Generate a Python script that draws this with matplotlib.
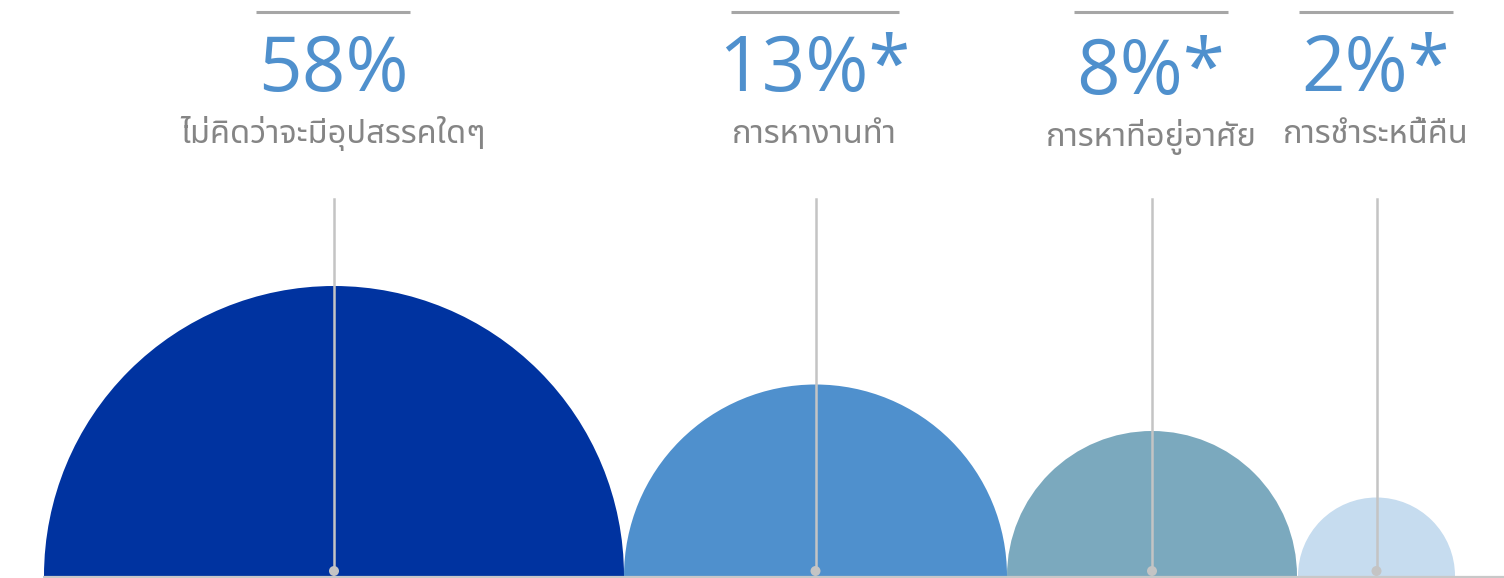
import matplotlib
matplotlib.use("Agg")
import matplotlib.pyplot as plt
from matplotlib.patches import Wedge, Circle
from matplotlib import font_manager
from matplotlib.ft2font import FT2Font

# === Data ===
values = [58, 13, 8, 2]
markers = ["", "*", "*", "*"]
labels = ["ไม่คิดว่าจะมีอุปสรรคใดๆ", "การหางานทำ", "การหาที่อยู่อาศัย", "การชำระหนี้คืน"]

# === Layout / style ===
radii = [290, 191.5, 145, 78.5]
gaps = [0, 0, 0, 1]
colors = ["#0033a0", "#4f90cd", "#7ba9be", "#c6dcef"]
line_half = [77, 84, 77, 77]
y_shift = [0, 0, -3, 0]
x_start = 44
base_y = 2
W, H = 1504, 578


def find_thai_font():
    preferred = ["Noto Sans Thai", "Noto Sans Thai UI", "Leelawadee UI", "Loma", "Garuda",
                 "Tlwg Typo", "Kinnari", "Norasi", "Sawasdee", "Umpush", "Waree"]
    found = {}
    for f in font_manager.fontManager.ttflist:
        try:
            if 0x0E01 in FT2Font(f.fname).get_charmap():
                found[f.name] = f.fname
        except Exception:
            pass
    for p in preferred:
        if p in found:
            return p
    if found:
        return sorted(found)[0]
    return "DejaVu Sans"


thai_font = find_thai_font()

fig = plt.figure(figsize=(W / 100, H / 100), dpi=100)
ax = fig.add_axes([0, 0, 1, 1])
ax.set_xlim(0, W)
ax.set_ylim(0, H)
ax.axis("off")

# baseline
ax.plot([x_start - 1, W], [base_y - 1, base_y - 1], color="#c8c8c8", lw=1.6,
        solid_capstyle="butt", zorder=3)

x = x_start
for i, (v, r) in enumerate(zip(values, radii)):
    x += gaps[i]
    cx = x + r
    x = cx + r
    ax.add_patch(Wedge((cx, base_y), r, 0, 180, facecolor=colors[i],
                       edgecolor="none", zorder=2))
    # leader line with dot
    ax.plot([cx, cx], [base_y + 5, H - 199], color="#c4c4c4", lw=1.8, zorder=4)
    ax.add_patch(Circle((cx, base_y + 5), 5, facecolor="#c4c4c4",
                        edgecolor="none", zorder=5))
    # header
    tx = cx - 1
    ax.plot([tx - line_half[i], tx + line_half[i]], [H - 12, H - 12],
            color="#a6a6a6", lw=2.2, solid_capstyle="butt")
    ax.text(tx, H - 91 + y_shift[i], f"{v}%{markers[i]}", ha="center", va="baseline",
            fontsize=55, color="#4f90cd", family="Open Sans")
    ax.text(tx, H - 143 + y_shift[i], labels[i], ha="center", va="baseline",
            fontsize=23.5, color="#858585", fontweight="light",
            family=[thai_font, "DejaVu Sans"])

fig.savefig("out.png", dpi=100)
